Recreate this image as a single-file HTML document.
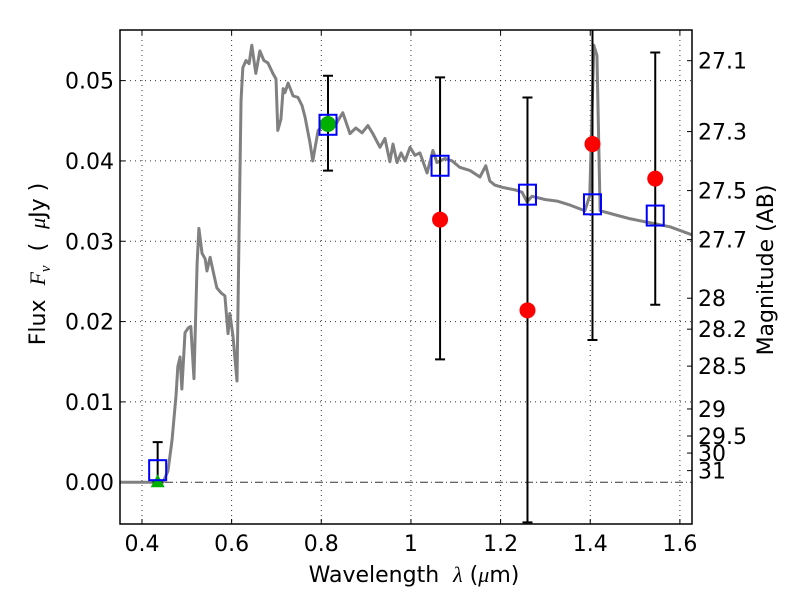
<!DOCTYPE html>
<html><head><meta charset="utf-8"><style>
body{margin:0;background:#fff}
svg{display:block;font-family:"DejaVu Sans","Liberation Sans",sans-serif}
text{white-space:pre}
.m{font-family:"Liberation Serif","DejaVu Serif",serif;font-style:italic}
</style></head><body>
<svg id="chart" width="800" height="600" xmlns="http://www.w3.org/2000/svg"></svg>
<script>
const specLam=[0.351,0.447,0.458,0.467,0.476,0.480,0.485,0.489,0.496,0.503,0.509,0.516,0.523,0.527,0.534,0.541,0.545,0.552,0.561,0.567,0.576,0.585,0.592,0.596,0.603,0.612,0.616,0.621,0.625,0.632,0.639,0.645,0.654,0.663,0.672,0.681,0.692,0.699,0.703,0.710,0.715,0.719,0.726,0.737,0.748,0.757,0.764,0.775,0.781,0.793,0.804,0.819,0.831,0.837,0.848,0.864,0.877,0.891,0.904,0.915,0.931,0.942,0.953,0.960,0.969,0.978,0.987,0.998,1.009,1.020,1.036,1.049,1.058,1.076,1.092,1.109,1.132,1.154,1.167,1.176,1.187,1.205,1.232,1.248,1.259,1.270,1.299,1.326,1.355,1.388,1.399,1.408,1.415,1.422,1.455,1.489,1.533,1.578,1.627];
const specFlux=[0,0,0.0014,0.0052,0.0108,0.0144,0.0156,0.0116,0.0186,0.0192,0.0194,0.0129,0.0272,0.0316,0.0285,0.0278,0.0263,0.0280,0.0257,0.0242,0.0236,0.0232,0.0185,0.0210,0.0182,0.0126,0.0288,0.0475,0.0516,0.0525,0.0521,0.0544,0.0509,0.0537,0.0525,0.0522,0.0509,0.0502,0.0438,0.0452,0.0490,0.0485,0.0497,0.0481,0.0479,0.0469,0.0454,0.0422,0.0400,0.0438,0.0444,0.0445,0.0443,0.0450,0.0460,0.0434,0.0441,0.0435,0.0444,0.0434,0.0417,0.0428,0.0399,0.0421,0.0398,0.0410,0.0400,0.0417,0.0407,0.0410,0.0385,0.0413,0.0398,0.0403,0.0400,0.0392,0.0388,0.0380,0.0394,0.0375,0.0370,0.0367,0.0364,0.0361,0.0349,0.0356,0.0352,0.0350,0.0345,0.0338,0.0357,0.0544,0.0531,0.0338,0.0333,0.0328,0.0323,0.0318,0.0308];
const bandLam=[0.435,0.815,1.065,1.26,1.405,1.545];
const modelFlux=[0.0015,0.0445,0.0394,0.0358,0.0346,0.0332];
const errHi=[0.0050,0.0506,0.0504,0.0479,0.0600,0.0535];
const errLo=[0.0,0.0388,0.0153,-0.0050,0.0177,0.0221];
const obsLam=[1.065,1.26,1.405,1.545];
const obsFlux=[0.0327,0.0214,0.0421,0.0378];
const greenLam=[0.815];const greenFlux=[0.0446];
const triLam=[0.435];const triFlux=[0.0];
const xTicks=[0.4,0.6,0.8,1.0,1.2,1.4,1.6];
const xTickLabels=["0.4","0.6","0.8","1","1.2","1.4","1.6"];
const yTicks=[0,0.01,0.02,0.03,0.04,0.05];
const yTickLabels=["0.00","0.01","0.02","0.03","0.04","0.05"];
const magTicks=[27.1,27.3,27.5,27.7,28,28.2,28.5,29,29.5,30,31];

const L=120,R=692,T=30,B=524;
const xMin=0.351,xMax=1.627,yMin=-0.0052,yMax=0.0563;
const X=v=>L+(v-xMin)/(xMax-xMin)*(R-L);
const Y=v=>B-(v-yMin)/(yMax-yMin)*(B-T);
const NS="http://www.w3.org/2000/svg";
const svg=document.getElementById('chart');
function mk(t,a,p){const e=document.createElementNS(NS,t);for(const k in a)e.setAttribute(k,a[k]);(p||svg).appendChild(e);return e;}

mk('rect',{x:0,y:0,width:800,height:600,fill:'#fff'});
const clip=mk('clipPath',{id:'c'});mk('rect',{x:L,y:T,width:R-L,height:B-T},clip);
xTicks.forEach((v,i)=>{
 const g=mk('line',{x1:X(v),x2:X(v),y1:T,y2:B,stroke:'#000','stroke-width':1,'stroke-dasharray':'1,4',opacity:0.8});
 
 
 mk('line',{x1:X(v),x2:X(v),y1:B,y2:B-5,stroke:'#000'});
 mk('line',{x1:X(v),x2:X(v),y1:T,y2:T+5,stroke:'#000'});
 const t=mk('text',{x:X(v),y:551,'text-anchor':'middle','font-size':22});
 t.textContent=xTickLabels[i];
 
 
});
yTicks.forEach((v,i)=>{
 const g=mk('line',{x1:L,x2:R,y1:Y(v),y2:Y(v),stroke:'#000','stroke-width':1,'stroke-dasharray':v===0?'8,3,1,3':'1,4',opacity:0.8});
 
 
 mk('line',{x1:L,x2:L+5,y1:Y(v),y2:Y(v),stroke:'#000'});
 const t=mk('text',{x:L-6,y:Y(v)+8,'text-anchor':'end','font-size':22});
 t.textContent=yTickLabels[i];
 
 
});
magTicks.forEach(m=>{
 const f=Math.pow(10,(23.9-m)/2.5);
 mk('line',{x1:R,x2:R-5,y1:Y(f),y2:Y(f),stroke:'#000'});
 const t=mk('text',{x:R+6,y:Y(f)+8,'font-size':22});
 t.textContent=String(m);
 
 
});
const gp=mk('g',{'clip-path':'url(#c)'});
const sp=mk('polyline',{points:specLam.map((l,i)=>X(l)+','+Y(specFlux[i])).join(' '),fill:'none',stroke:'#808080','stroke-width':3,'stroke-linejoin':'round'},gp);


bandLam.forEach((l,i)=>{
 const x=X(l),y1=Y(errHi[i]),y2=Y(errLo[i]);
 const e=mk('path',{d:`M${x},${y1}V${y2}M${x-5},${y1}H${x+5}M${x-5},${y2}H${x+5}`,stroke:'#000','stroke-width':2,fill:'none'},gp);
 
 
});
greenLam.forEach((l,i)=>{
 const c=mk('circle',{cx:X(l),cy:Y(greenFlux[i]),r:8,fill:'#00b000'},gp);
 
 
});
triLam.forEach((l,i)=>{
 const x=X(l),y=Y(triFlux[i]);
 const p=mk('path',{d:`M${x},${y-8}L${x+7},${y+5}L${x-7},${y+5}Z`,fill:'#00b000'},gp);
 
 
});
bandLam.forEach((l,i)=>{
 const r=mk('rect',{x:X(l)-8.5,y:Y(modelFlux[i])-10,width:17,height:20,fill:'none',stroke:'#0000ff','stroke-width':2},gp);
 
 
});
obsLam.forEach((l,i)=>{
 const c=mk('circle',{cx:X(l),cy:Y(obsFlux[i]),r:8,fill:'#ff0000'},gp);
 
 
});
const fr=mk('rect',{x:L,y:T,width:R-L,height:B-T,fill:'none',stroke:'#000','stroke-width':1.5});


const xt=mk('text',{x:414,y:582,'text-anchor':'middle','font-size':22});
xt.innerHTML='Wavelength  <tspan class="m">λ</tspan> (<tspan class="m">μ</tspan>m)';


const yt=mk('text',{x:0,y:0,'text-anchor':'middle','font-size':22,transform:'translate(45,264) rotate(-90)'});
yt.innerHTML='Flux  <tspan class="m">F</tspan><tspan class="m" font-size="15" dy="5">ν</tspan><tspan dy="-5">  (  </tspan><tspan class="m">μ</tspan>Jy )';


const rt=mk('text',{x:0,y:0,'text-anchor':'middle','font-size':22,transform:'translate(773,270) rotate(-90)'});
rt.textContent='Magnitude (AB)';


</script>
</body></html>
